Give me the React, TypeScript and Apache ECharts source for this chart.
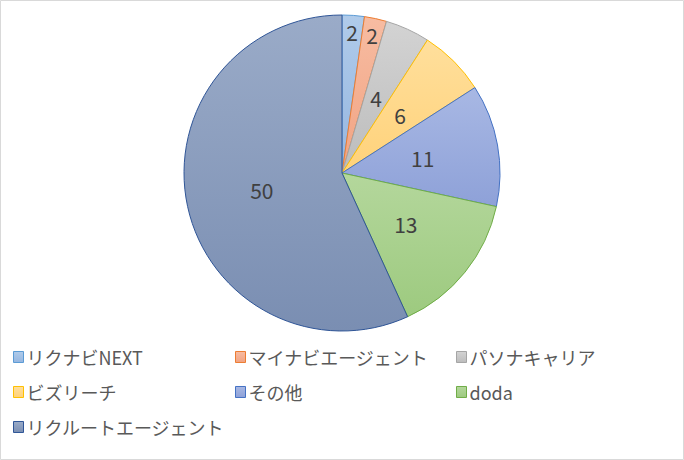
import * as React from 'react';
import * as echarts from 'echarts';

// Share of job sites (pie, clockwise from 12 o'clock)
const categories = [
  'リクナビNEXT',
  'マイナビエージェント',
  'パソナキャリア',
  'ビズリーチ',
  'その他',
  'doda',
  'リクルートエージェント',
];
const values = [2, 2, 4, 6, 11, 13, 50];

const fillTop = ['#b0cbea', '#f7bca2', '#d3d3d3', '#ffdf9c', '#a8b8e4', '#b4d79c', '#9aabc8'];
const fillBottom = ['#95b6e0', '#f1a382', '#bcbcbc', '#ffd27a', '#8ea1d8', '#9dca7f', '#7a8eb2'];
const borders = ['#5b9bd5', '#ed7d31', '#a5a5a5', '#ffc000', '#4472c4', '#70ad47', '#2f5597'];

// legend grid: 3 columns
const legendCols = [13, 235, 456];
const legendRows = [358, 393, 428];

const FONT = '"Noto Sans CJK JP", "Noto Sans", sans-serif';

function fill(i: number) {
  return new echarts.graphic.LinearGradient(0, 0, 0, 1, [
    { offset: 0, color: fillTop[i] },
    { offset: 1, color: fillBottom[i] },
  ]);
}

export default function App() {
  const chartRef = React.useRef<HTMLDivElement>(null);

  React.useEffect(() => {
    if (!chartRef.current) return;
    const chart = echarts.init(chartRef.current, undefined, { renderer: 'svg' });

    const cx = 342;
    const cy = 173;
    const R = 158;

    const labelStyle = {
      show: true,
      position: 'inside',
      formatter: '{c}',
      fontSize: 21,
      color: '#404040',
      fontFamily: FONT,
    };

    const legends = categories.map((name, i) => ({
      left: legendCols[i % 3],
      top: legendRows[Math.floor(i / 3)] - 10,
      orient: 'horizontal',
      itemWidth: 10,
      itemHeight: 11,
      itemGap: 0,
      padding: 0,
      selectedMode: false,
      textStyle: { fontSize: 18, color: '#595959', fontFamily: FONT, padding: [0, 0, 0, -2] },
      data: [
        {
          name,
          icon: 'rect',
          itemStyle: { color: fill(i), borderColor: borders[i], borderWidth: 1 },
        },
      ],
    }));

    chart.setOption({
      animation: false,
      backgroundColor: '#ffffff',
      legend: legends,
      graphic: [
        {
          type: 'rect',
          shape: { x: 0.5, y: 0.5, width: 683, height: 459 },
          style: { fill: 'none', stroke: '#d9d9d9', lineWidth: 1 },
          silent: true,
        },
      ],
      series: [
        {
          type: 'pie',
          center: [cx, cy],
          radius: [0, R],
          startAngle: 90,
          clockwise: true,
          avoidLabelOverlap: false,
          emphasis: { disabled: true },
          label: labelStyle,
          labelLine: { show: false },
          data: categories.map((name, i) => ({
            name,
            value: values[i],
            itemStyle: { color: fill(i), borderColor: borders[i], borderWidth: 1 },
            label: { show: i > 1 },
          })),
        },
        {
          // overlay ring only to place labels of the thin slices further out
          type: 'pie',
          center: [cx, cy],
          radius: [118, R],
          startAngle: 90,
          clockwise: true,
          silent: true,
          avoidLabelOverlap: false,
          emphasis: { disabled: true },
          label: labelStyle,
          labelLine: { show: false },
          itemStyle: { color: 'rgba(0,0,0,0)', borderWidth: 0 },
          data: categories.map((name, i) => ({
            name,
            value: values[i],
            label: { show: i <= 1 },
          })),
        },
      ],
    });

    return () => {
      chart.dispose();
    };
  }, []);

  return (
    <div
      ref={chartRef}
      style={{ position: 'fixed', left: 0, top: 0, width: '684px', height: '460px' }}
    />
  );
}
